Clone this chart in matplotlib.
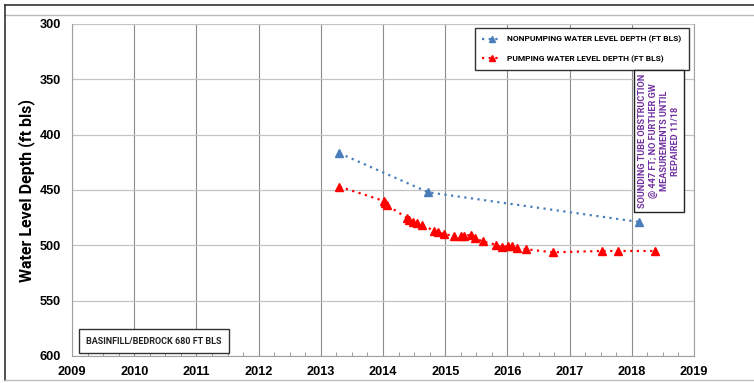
import matplotlib
matplotlib.use("Agg")
import matplotlib.pyplot as plt
from matplotlib.lines import Line2D
from matplotlib.ticker import MultipleLocator

# nonpumping water level depth (decimal year, ft bls)
nonpump_year = [2013.30, 2014.73, 2018.12]
nonpump_depth = [416.8, 452.1, 478.9]

# pumping water level depth
pump_year = [2013.30, 2014.02, 2014.04, 2014.07, 2014.38, 2014.41, 2014.49,
             2014.55, 2014.63, 2014.82, 2014.89, 2014.98, 2015.14, 2015.26,
             2015.31, 2015.41, 2015.48, 2015.60, 2015.82, 2015.91, 2016.01,
             2016.07, 2016.16, 2016.30, 2016.74, 2017.52, 2017.78, 2018.37]
pump_depth = [447.0, 460.0, 461.5, 463.9, 475.0, 477.0, 479.0,
              480.0, 481.7, 486.8, 488.3, 489.8, 491.6, 491.6,
              491.6, 490.4, 493.7, 496.4, 499.5, 501.8, 500.4,
              500.4, 502.5, 503.6, 506.3, 505.1, 505.1, 505.1]

year_ticks = list(range(2009, 2020))
depth_ticks = [300, 350, 400, 450, 500, 550, 600]

plt.rcParams["font.family"] = ["Roboto", "DejaVu Sans"]
plt.rcParams["font.weight"] = "bold"

fig = plt.figure(figsize=(7.54, 3.83), dpi=100)
W, H = 754, 383
ax = fig.add_axes([72 / W, 1 - 356 / H, (694 - 72) / W, (356 - 24) / H])

ax.plot(nonpump_year, nonpump_depth, color="#4a7ebb", ls=(0, (1, 2)), lw=1.6,
        marker="^", ms=5.5, mfc="#4a7ebb", mec="#4a7ebb", zorder=3)
ax.plot(pump_year, pump_depth, color="#ff0000", ls=(0, (1, 2)), lw=1.6,
        marker="^", ms=5.5, mfc="#ff0000", mec="#ff0000", zorder=3)

ax.set_xlim(2009, 2019)
ax.set_ylim(600, 300)
ax.set_xticks(year_ticks)
ax.set_yticks(depth_ticks)
ax.xaxis.set_minor_locator(MultipleLocator(0.25))
ax.tick_params(axis="x", which="minor", direction="in", length=3, color="#888888")
ax.tick_params(axis="x", which="major", length=0, pad=7)
ax.tick_params(axis="y", which="major", length=0, pad=8)
for lab in ax.get_xticklabels() + ax.get_yticklabels():
    lab.set_family("Liberation Sans")
    lab.set_fontweight("bold")
    lab.set_fontsize(9.2)
ax.grid(True, axis="x", which="major", color="#8c8c8c", lw=0.8)
ax.grid(True, axis="y", which="major", color="#c4c4c4", lw=0.9)
for s in ax.spines.values():
    s.set_color("#a0a0a0")
ax.spines["top"].set_visible(False)
ax.set_ylabel("Water Level Depth (ft bls)", fontsize=11.5, fontweight="bold", labelpad=3)

handles = [
    Line2D([], [], color="#4a7ebb", ls=(0, (1, 2)), lw=1.6, marker="^", ms=5, mfc="#4a7ebb", mec="#4a7ebb"),
    Line2D([], [], color="#ff0000", ls=(0, (1, 2)), lw=1.6, marker="^", ms=5, mfc="#ff0000", mec="#ff0000"),
]
leg = ax.legend(handles, ["NONPUMPING WATER LEVEL DEPTH (FT BLS)", "PUMPING WATER LEVEL DEPTH (FT BLS)"],
                loc="upper right", bbox_to_anchor=(693 / W, 1 - 24 / H), bbox_transform=fig.transFigure,
                fancybox=False, edgecolor="#333333", framealpha=1, handlelength=2.4,
                prop={"size": 6.0, "weight": "bold"},
                borderpad=0.9, labelspacing=1.4, handletextpad=0.6)
leg.get_frame().set_linewidth(1.0)

# annotation box about the sounding tube
note = ("SOUNDING TUBE OBSTRUCTION\n@ 447 FT; NO FURTHER GW\n"
        "MEASUREMENTS UNTIL\nREPAIRED 11/18")
fig.text(659 / W, 1 - 141 / H, note, rotation=90, ha="center", va="center",
         multialignment="center", color="#7030a0", fontsize=6.6, fontweight="bold",
         linespacing=1.3,
         bbox=dict(boxstyle="square,pad=0.4", fc="white", ec="#222222", lw=1.0))

# bottom-left box
fig.text(154 / W, 1 - 341 / H, "BASINFILL/BEDROCK 680 FT BLS", ha="center", va="center",
         fontsize=6.5, fontweight="bold", color="#222222",
         bbox=dict(boxstyle="square,pad=0.85", fc="white", ec="#333333", lw=1.0))

# outer frame lines
fig.add_artist(Line2D([5 / W, 1], [1 - 5 / H, 1 - 5 / H], transform=fig.transFigure, color="#333333", lw=1.2))
fig.add_artist(Line2D([5 / W, 1], [1 - 15 / H, 1 - 15 / H], transform=fig.transFigure, color="#bbbbbb", lw=1.0))
fig.add_artist(Line2D([5 / W, 5 / W], [1 - 5 / H, 1 - 380 / H], transform=fig.transFigure, color="#333333", lw=1.2))
fig.add_artist(Line2D([5 / W, 1], [1 - 380 / H, 1 - 380 / H], transform=fig.transFigure, color="#bbbbbb", lw=1.0))

fig.savefig("out.png", dpi=100)
